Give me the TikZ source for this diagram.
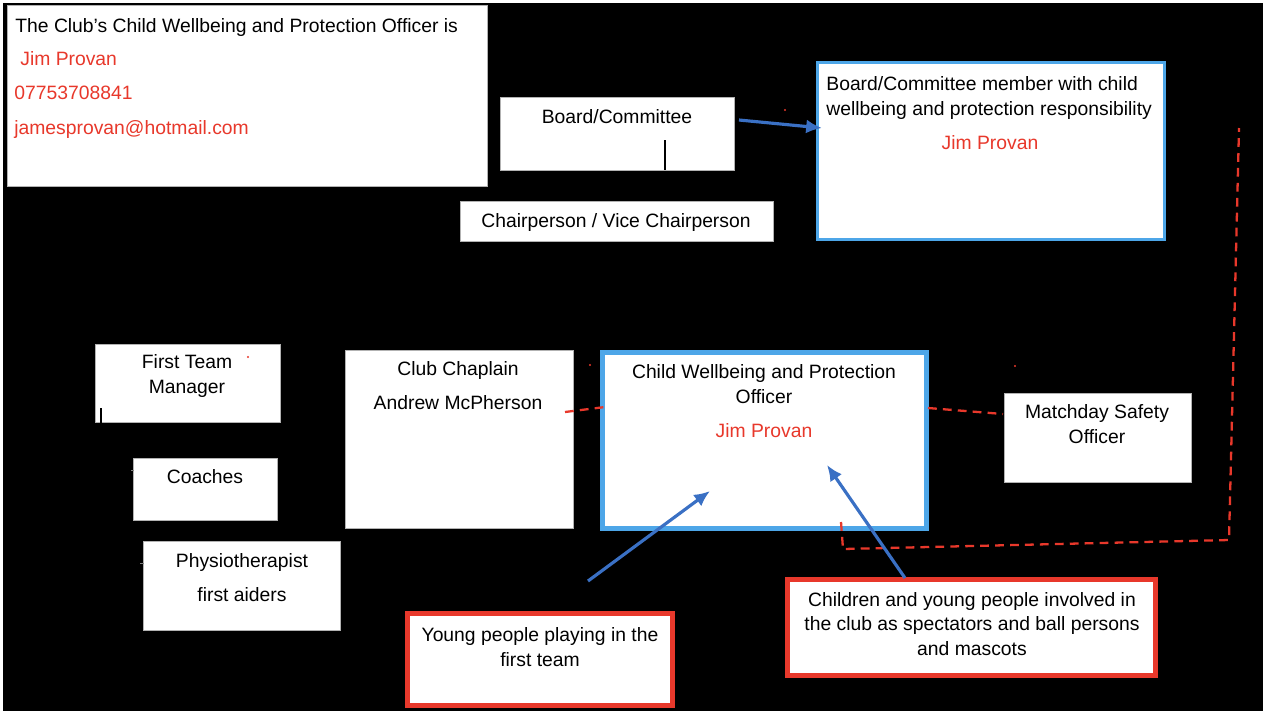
\documentclass[tikz,border=0pt]{standalone}
\usepackage{fontspec}
\setmainfont{Liberation Sans}
\usetikzlibrary{arrows.meta}
\definecolor{cwred}{RGB}{232,56,43}
\definecolor{cwblue}{RGB}{77,166,232}
\definecolor{cwarrow}{RGB}{58,112,196}

\begin{document}
\begin{tikzpicture}[x=0.02cm, y=-0.02cm,
    every node/.style={font=\fontsize{11}{13.9}\selectfont, inner sep=0pt},
    box/.style={draw=gray!60, line width=0.5pt, fill=white},
    bluebox/.style={draw=cwblue, fill=white},
    redbox/.style={draw=cwred, line width=2.8pt, fill=white},
    txt/.style={anchor=base, align=center},
    reddash/.style={cwred, line width=1.3pt, dash pattern=on 5pt off 3.5pt},
    bluearrow/.style={cwarrow, line width=1.8pt, -{Latex[length=9pt,width=8pt]}}]
    \useasboundingbox (0,0) rectangle (1263,711);
    \fill[white] (0,0) rectangle (1263,711);
    \fill[black] (3,3) rectangle (1263,711);

    % boxes
    \node[box, minimum width=9.6cm, minimum height=3.62cm] (info) at (247,95.5) {};
    \node[box, minimum width=4.68cm, minimum height=1.46cm] (board) at (617,133.5) {};
    \node[box, minimum width=6.26cm, minimum height=0.8cm] (chair) at (616.5,221) {};
    \node[bluebox, line width=1.7pt, minimum width=6.94cm, minimum height=3.54cm] (member) at (991,151) {};
    \node[box, minimum width=3.7cm, minimum height=1.56cm] (manager) at (187.5,383) {};
    \node[box, minimum width=2.88cm, minimum height=1.24cm] (coaches) at (205,489) {};
    \node[box, minimum width=3.94cm, minimum height=1.78cm] (physio) at (241.5,585.5) {};
    \node[box, minimum width=4.56cm, minimum height=3.56cm] (chaplain) at (459,439) {};
    \node[bluebox, line width=2.8pt, minimum width=6.48cm, minimum height=3.52cm] (cwpo) at (764.5,440.5) {};
    \node[box, minimum width=3.74cm, minimum height=1.78cm] (safety) at (1097.5,437.5) {};
    \node[redbox, minimum width=5.3cm, minimum height=1.84cm] (young) at (540,659.5) {};
    \node[redbox, minimum width=7.36cm, minimum height=1.92cm] (kids) at (971.5,627.5) {};

    % texts (multi-line: base = last line)
    \node[anchor=base west] (info-head) at (15,32) {The Club’s Child Wellbeing and Protection Officer is};
    \node[anchor=base west, text=cwred] (info-name) at (20,65) {Jim Provan};
    \node[anchor=base west, text=cwred] (info-phone) at (14,99) {07753708841};
    \node[anchor=base west, text=cwred] (info-mail) at (14,134) {jamesprovan@hotmail.com};
    \node[txt] (board-t) at (617,123) {Board/Committee};
    \node[txt] (chair-t) at (616,227) {Chairperson / Vice Chairperson};
    \node[anchor=base west, align=left] (member-t) at (826,115) {Board/Committee member with child\\wellbeing and protection responsibility};
    \node[txt, text=cwred] (member-name) at (990,149) {Jim Provan};
    \node[txt] (manager-t) at (187,393) {First Team\\Manager};
    \node[txt] (coaches-t) at (205,483) {Coaches};
    \node[txt] (physio-t1) at (242,567) {Physiotherapist};
    \node[txt] (physio-t2) at (242,601) {first aiders};
    \node[txt] (chaplain-t1) at (458,375) {Club Chaplain};
    \node[txt] (chaplain-t2) at (458,409) {Andrew McPherson};
    \node[txt] (cwpo-t) at (764,403) {Child Wellbeing and Protection\\Officer};
    \node[txt, text=cwred] (cwpo-name) at (764,437) {Jim Provan};
    \node[txt] (safety-t) at (1097,443) {Matchday Safety\\Officer};
    \node[txt] (young-t) at (540,666) {Young people playing in the\\first team};
    \node[txt] (kids-t) at (972,655) {Children and young people involved in\\the club as spectators and ball persons\\and mascots};

    % free ends
    \coordinate (chaplain-r) at (565,412);
    \coordinate (cwpo-l) at (605,407);
    \coordinate (cwpo-r) at (928,408);
    \coordinate (safety-l) at (1003,414);
    \coordinate (cwpo-b) at (841,522);
    \coordinate (corner-a) at (843,549);
    \coordinate (corner-b) at (1229,540);
    \coordinate (dash-end) at (1239,128);
    \coordinate (board-r) at (739,120);
    \coordinate (member-l) at (822,128);
    \coordinate (young-tail) at (588,581);
    \coordinate (young-tip) at (710,491);
    \coordinate (kids-tail) at (905,578);
    \coordinate (kids-tip) at (827,465);

    \draw[reddash] (chaplain-r) -- (cwpo-l);
    \draw[reddash] (cwpo-r) -- (safety-l);
    \draw[reddash] (cwpo-b) -- (corner-a) -- (corner-b) -- (dash-end);
    \draw[bluearrow] (board-r) -- (member-l);
    \draw[bluearrow] (young-tail) -- (young-tip);
    \draw[bluearrow] (kids-tail) -- (kids-tip);

    % small marks
    \draw[line width=0.6pt] (665,140) -- (665,170);
    \draw[line width=0.6pt] (101,408) -- (101,423);
    \draw[gray, line width=0.4pt] (131,470) -- (134,470);
    \draw[gray, line width=0.4pt] (140,563) -- (144,563);
    \foreach \p in {(785,110),(248,357),(590,365),(1015,366)}
        \fill[cwred] \p circle[radius=0.6pt];
\end{tikzpicture}
\end{document}
